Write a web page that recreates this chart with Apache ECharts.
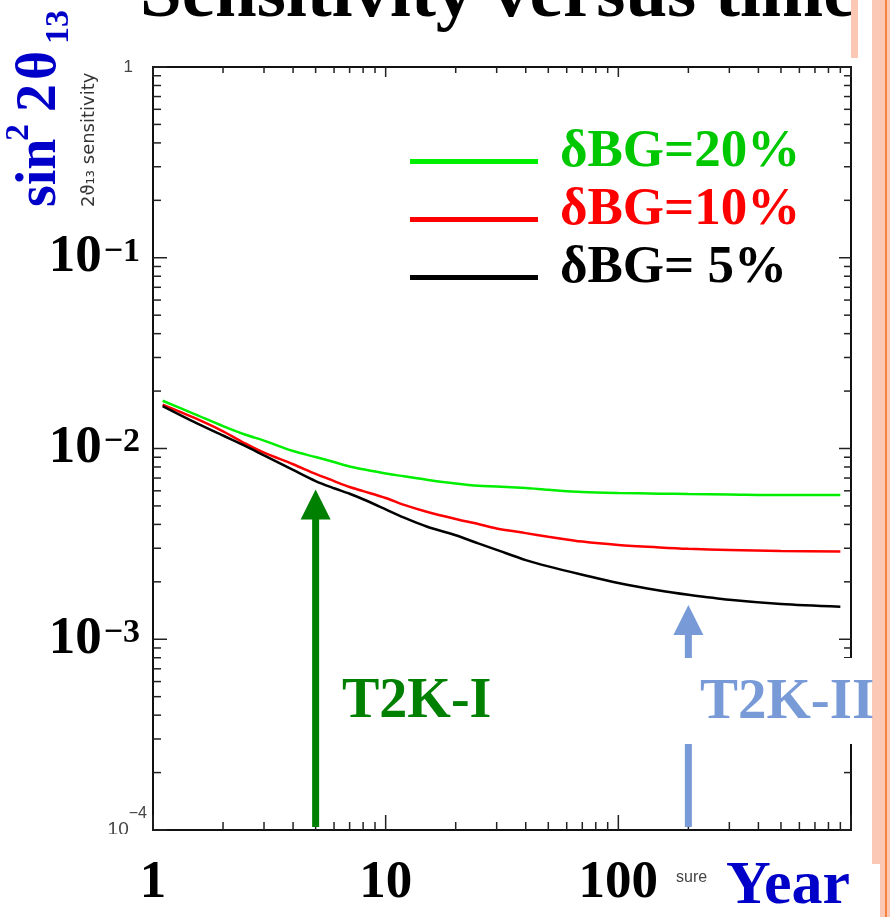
<!DOCTYPE html>
<html><head><meta charset="utf-8">
<script src="https://cdn.jsdelivr.net/npm/echarts@6/dist/echarts.min.js"></script>
<style>html,body{margin:0;padding:0;background:#fff}#c{width:890px;height:917px}</style>
</head><body><div id="c"></div>
<script>
// ---- data ----
const years = [1.1, 1.5, 2, 2.5, 3, 4, 5, 6, 7, 8, 10, 12, 15, 20, 25, 30, 40, 50, 70, 100, 150, 200, 300, 500, 900];
const bg20 = [0.0178, 0.0152, 0.0131, 0.0118, 0.0110, 0.00970, 0.00902, 0.00849, 0.00805, 0.00778, 0.00739, 0.00715, 0.00686, 0.00655, 0.00637, 0.00632, 0.00620, 0.00607, 0.00591, 0.00584, 0.00580, 0.00577, 0.00574, 0.00570, 0.00570];
const bg10 = [0.0170, 0.0145, 0.0123, 0.0106, 0.00951, 0.00827, 0.00736, 0.00675, 0.00628, 0.00598, 0.00550, 0.00506, 0.00466, 0.00427, 0.00402, 0.00381, 0.00360, 0.00345, 0.00325, 0.00312, 0.00303, 0.00298, 0.00294, 0.00290, 0.00288];
const bg5 = [0.0167, 0.0138, 0.0117, 0.0103, 0.00920, 0.00772, 0.00675, 0.00619, 0.00579, 0.00542, 0.00480, 0.00434, 0.00390, 0.00351, 0.00318, 0.00294, 0.00260, 0.00241, 0.00218, 0.00197, 0.00180, 0.00171, 0.00161, 0.00153, 0.00148];
const seriesNames = ['δBG=20%', 'δBG=10%', 'δBG= 5%'];
const arrowYears = [5, 200];
const arrowTips = [0.0061, 0.00151];
const arrowLabels = ['T2K-I', 'T2K-II'];
const xDecades = [1, 10, 100];
const yDecades = [0.0001, 0.001, 0.01, 0.1];

// ---- styles ----
const lineColors = ['#00ee00', '#ff0000', '#000000'];
const legendTextColors = ['#00c800', '#ff0000', '#000000'];
const arrowColors = ['#008000', '#789bd8'];
const SERIF = 'Liberation Serif';

function pairs(xs, ys) { return xs.map((x, i) => [x, ys[i]]); }

const xTickData = [];
xDecades.forEach(d => { for (let m = 1; m <= 9; m++) xTickData.push([d * m, 0.01, m === 1 ? 1 : 0]); });
xTickData.push([1000, 0.01, 1]);
const yTickData = [];
yDecades.forEach(d => { for (let m = 1; m <= 9; m++) yTickData.push([10, d * m, m === 1 ? 1 : 0]); });
yTickData.push([10, 1, 1]);

const chart = echarts.init(document.getElementById('c'), null, { renderer: 'canvas' });

const legendRich = {};
legendTextColors.forEach((c, i) => {
  legendRich['t' + i] = { color: c, fontFamily: SERIF, fontWeight: 'bold', fontSize: 53, lineHeight: 40, padding: [0, 0, 18, 17] };
});

const option = {
  animation: false,
  backgroundColor: '#fff',
  grid: { left: 153, top: 67, width: 698, height: 763, show: true, borderColor: '#111', borderWidth: 2, backgroundColor: 'transparent' },
  xAxis: {
    type: 'log', logBase: 10, min: 1, max: 1000,
    axisLine: { show: false }, axisTick: { show: false }, splitLine: { show: false },
    axisLabel: {
      margin: 27,
      formatter: v => { const e = Math.round(Math.log10(v)); return e >= 3 ? '' : '{x|' + Math.round(Math.pow(10, e)) + '}'; },
      rich: { x: { fontFamily: SERIF, fontWeight: 'bold', fontSize: 53, color: '#000' } }
    }
  },
  yAxis: {
    type: 'log', logBase: 10, min: 0.0001, max: 1,
    axisLine: { show: false }, axisTick: { show: false }, splitLine: { show: false },
    axisLabel: {
      margin: 6,
      formatter: v => {
        const e = Math.round(Math.log10(v));
        if (e === 0) return '{g|1}';
        if (e === -4) return '{g0|10}{gs|−4}';
        return '{b|10}{s|−' + (-e) + '}';
      },
      rich: {
        b: { fontFamily: SERIF, fontWeight: 'bold', fontSize: 53, color: '#000', lineHeight: 53 },
        s: { fontFamily: SERIF, fontWeight: 'bold', fontSize: 34, color: '#000', verticalAlign: 'middle', lineHeight: 20, padding: [0, 7, 12, 2] },
        g: { fontFamily: 'Liberation Sans', fontSize: 17, color: '#444', padding: [0, 14, 0, 0] },
        g0: { fontFamily: 'Liberation Sans', fontSize: 19, color: '#444', lineHeight: 19 },
        gs: { fontFamily: 'Liberation Sans', fontSize: 16, color: '#444', verticalAlign: 'middle', lineHeight: 12, padding: [0, 0, 32, 0] }
      }
    }
  },
  legend: {
    orient: 'vertical', left: 410, top: 126, padding: 0, itemGap: -13,
    itemWidth: 128, itemHeight: 5, icon: 'rect',
    formatter: name => '{t' + seriesNames.indexOf(name) + '|' + name + '}',
    textStyle: { fontFamily: SERIF, fontWeight: 'bold', fontSize: 53, rich: legendRich },
    data: seriesNames.map((n, i) => ({ name: n, textStyle: { color: legendTextColors[i] } }))
  },
  series: [
    ...[bg20, bg10, bg5].map((arr, i) => ({
      name: seriesNames[i], type: 'line', data: pairs(years, arr), symbol: 'none', smooth: 0.3,
      lineStyle: { color: lineColors[i], width: 2.5 }, itemStyle: { color: lineColors[i] }, z: 5
    })),
    {
      type: 'custom', name: 'xticks', clip: false, silent: true, z: 3,
      data: xTickData,
      renderItem: (p, api) => {
        const v = api.value(0), major = api.value(2);
        const b = api.coord([v, 0.0001]), t = api.coord([v, 1]);
        const lb = major ? 15 : 8, lt = major ? 10 : 6;
        return { type: 'group', children: [
          { type: 'line', shape: { x1: b[0], y1: b[1], x2: b[0], y2: b[1] - lb }, style: { stroke: '#222', lineWidth: 1.5 } },
          { type: 'line', shape: { x1: t[0], y1: t[1], x2: t[0], y2: t[1] + lt }, style: { stroke: '#222', lineWidth: 1.5 } }
        ] };
      }
    },
    {
      type: 'custom', name: 'yticks', clip: false, silent: true, z: 3,
      data: yTickData,
      renderItem: (p, api) => {
        const v = api.value(1), major = api.value(2);
        const l = api.coord([1, v]), r = api.coord([1000, v]);
        const ll = major ? 14 : 8, lr = major ? 12 : 7;
        return { type: 'group', children: [
          { type: 'line', shape: { x1: l[0], y1: l[1], x2: l[0] + ll, y2: l[1] }, style: { stroke: '#222', lineWidth: 1.5 } },
          { type: 'line', shape: { x1: r[0], y1: r[1], x2: r[0] - lr, y2: r[1] }, style: { stroke: '#222', lineWidth: 1.5 } }
        ] };
      }
    },
    {
      type: 'custom', name: 'arrows', clip: false, silent: true, z: 4,
      data: arrowYears.map((x, i) => [x, arrowTips[i], i]),
      renderItem: (p, api) => {
        const i = api.value(2);
        const tip = api.coord([api.value(0), api.value(1)]);
        const base = api.coord([api.value(0), 0.0001]);
        const hl = 30, hw = 15, sw = 7, c = arrowColors[i];
        return { type: 'group', children: [
          { type: 'polygon', shape: { points: [[tip[0], tip[1]], [tip[0] - hw, tip[1] + hl], [tip[0] + hw, tip[1] + hl]] }, style: { fill: c } },
          { type: 'rect', shape: { x: tip[0] - sw / 2, y: tip[1] + hl - 1, width: sw, height: base[1] - 3 - (tip[1] + hl - 1) }, style: { fill: c } }
        ] };
      }
    }
  ],
  graphic: [
    { type: 'text', x: 140, y: -3, z: 1, style: { text: 'Sensitivity versus time', fontFamily: SERIF, fontWeight: 'bold', fontSize: 75, fill: '#000', align: 'left', verticalAlign: 'middle' } },
    // rotated y-axis title
    { type: 'group', x: 60, y: 207, rotation: Math.PI / 2, z: 20, children: [
      { type: 'text', x: 0, y: -19, style: { text: 'sin', fontFamily: SERIF, fontWeight: 'bold', fontSize: 56, fill: '#0000c8', align: 'left', verticalAlign: 'middle' } },
      { type: 'text', x: 66, y: -41, style: { text: '2', fontFamily: SERIF, fontWeight: 'bold', fontSize: 34, fill: '#0000c8', align: 'left', verticalAlign: 'middle' } },
      { type: 'text', x: 95, y: -19, style: { text: '2', fontFamily: SERIF, fontWeight: 'bold', fontSize: 56, fill: '#0000c8', align: 'left', verticalAlign: 'middle' } },
      { type: 'text', x: 127, y: -19, style: { text: 'θ', fontFamily: SERIF, fontWeight: 'bold', fontSize: 56, fill: '#0000c8', align: 'left', verticalAlign: 'middle' } },
      { type: 'text', x: 163, y: -1, style: { text: '13', fontFamily: SERIF, fontWeight: 'bold', fontSize: 34, fill: '#0000c8', align: 'left', verticalAlign: 'middle' } }
    ] },
    { type: 'group', x: 95, y: 207, rotation: Math.PI / 2, z: 20, children: [
      { type: 'text', x: 0, y: -6, style: { text: '2ϑ₁₃ sensitivity', fontFamily: 'DejaVu Sans', fontSize: 18, fill: '#333', align: 'left', verticalAlign: 'middle' } }
    ] },
    // crop of the small 10^-4 label
    { type: 'rect', z: 30, shape: { x: 100, y: 834, width: 50, height: 18 }, style: { fill: '#fff' } },
    // annotation labels
    { type: 'text', x: 342, y: 703, z: 40, style: { text: arrowLabels[0], fontFamily: SERIF, fontWeight: 'bold', fontSize: 56, fill: arrowColors[0], align: 'left', verticalAlign: 'middle' } },
    { type: 'rect', z: 39, shape: { x: 675, y: 658, width: 196, height: 86 }, style: { fill: '#fff' } },
    { type: 'text', x: 700, y: 703, z: 40, style: { text: arrowLabels[1], fontFamily: SERIF, fontWeight: 'bold', fontSize: 57, fill: arrowColors[1], align: 'left', verticalAlign: 'middle' } },
    { type: 'text', x: 676, y: 878, z: 40, style: { text: 'sure', fontFamily: 'Liberation Sans', fontSize: 16, fill: '#444', align: 'left', verticalAlign: 'middle' } },
    // pink side bands
    { type: 'rect', z: 35, shape: { x: 851, y: 0, width: 7, height: 58 }, style: { fill: '#fac8b4' } },
    { type: 'rect', z: 35, shape: { x: 872, y: 0, width: 18, height: 917 }, style: { fill: '#fac8b4' } },
    { type: 'rect', z: 36, shape: { x: 885, y: 0, width: 2, height: 917 }, style: { fill: '#f4843c' } },
    { type: 'rect', z: 41, shape: { x: 712, y: 864, width: 168, height: 53 }, style: { fill: '#fff' } },
    { type: 'text', x: 726, y: 887, z: 42, style: { text: 'Year', fontFamily: SERIF, fontWeight: 'bold', fontSize: 62, fill: '#0000c8', align: 'left', verticalAlign: 'middle' } }
  ]
};
chart.setOption(option);
</script></body></html>
